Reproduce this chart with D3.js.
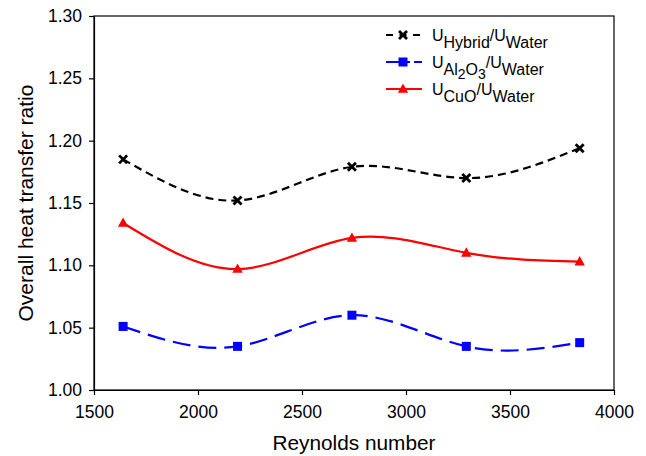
<!doctype html>
<html>
  <head>
    <meta charset="UTF-8">
    <title>Heat transfer ratio</title>
    <script src="https://d3js.org/d3.v7.min.js"></script>
    <style>
      body { margin: 0; background: #fff; }
      svg { display: block; font-family: "Liberation Sans", Arial, sans-serif; }
      .axis path, .axis line { stroke: #000; stroke-width: 1.2px; }
      .axis text { font-size: 17.5px; fill: #000; }
    </style>
  </head>
  <body>
    <svg id="chart" width="646" height="456"></svg>
    <script>
      // Reynolds numbers and the three ratio series
      const reynolds = [1640, 2190, 2740, 3290, 3835];
      const hybrid = [1.185, 1.152, 1.179, 1.170, 1.194];
      const al2o3 = [1.051, 1.035, 1.060, 1.035, 1.038];
      const cuo = [1.134, 1.097, 1.122, 1.110, 1.103];
      const xTicks = [1500, 2000, 2500, 3000, 3500, 4000];
      const yTicks = [1.00, 1.05, 1.10, 1.15, 1.20, 1.25, 1.30];

      const svg = d3.select("#chart");
      const plotL = 94, plotR = 614, plotT = 16, plotB = 390;

      const x = d3.scaleLinear().domain([1500, 4000]).range([plotL, plotR]);
      const y = d3.scaleLinear().domain([1.0, 1.3]).range([plotB, plotT]);

      // frame
      svg.append("rect")
        .attr("x", plotL).attr("y", plotT)
        .attr("width", plotR - plotL).attr("height", plotB - plotT)
        .attr("fill", "none").attr("stroke", "#000").attr("stroke-width", 1.2);

      svg.append("g").attr("class", "axis")
        .attr("transform", `translate(0,${plotB})`)
        .call(d3.axisBottom(x).tickValues(xTicks).tickSize(5).tickSizeOuter(0).tickPadding(11).tickFormat(d3.format("d")));

      svg.append("g").attr("class", "axis")
        .attr("transform", `translate(${plotL},0)`)
        .call(d3.axisLeft(y).tickValues(yTicks).tickSize(5).tickSizeOuter(0).tickPadding(7).tickFormat(d3.format(".2f")));

      // axis titles
      svg.append("text")
        .attr("x", (plotL + plotR) / 2).attr("y", 450)
        .attr("text-anchor", "middle").attr("font-size", 20.8)
        .text("Reynolds number");
      svg.append("text")
        .attr("transform", `translate(33,${(plotT + plotB) / 2}) rotate(-90)`)
        .attr("text-anchor", "middle").attr("font-size", 21)
        .text("Overall heat transfer ratio");

      const series = [
        { values: hybrid, color: "#000", dash: "8,5", legendDash: "7,6.5", marker: "cross" },
        { values: al2o3, color: "#0000ff", dash: "18,8", legendDash: "24,4", marker: "square" },
        { values: cuo, color: "#ff0000", dash: null, legendDash: null, marker: "triangle" }
      ];

      const line = d3.line()
        .x(d => x(d[0])).y(d => y(d[1]))
        .curve(d3.curveNatural);

      function drawMarker(g, kind, cx, cy, color) {
        if (kind === "cross") {
          g.append("path")
            .attr("d", `M${cx - 4},${cy - 4}L${cx + 4},${cy + 4}M${cx - 4},${cy + 4}L${cx + 4},${cy - 4}`)
            .attr("stroke", color).attr("stroke-width", 2.8);
        } else if (kind === "square") {
          g.append("rect")
            .attr("x", cx - 4.5).attr("y", cy - 4.5)
            .attr("width", 9).attr("height", 9).attr("fill", color);
        } else {
          g.append("path")
            .attr("d", `M${cx},${cy - 5.5}L${cx + 5.2},${cy + 3.8}L${cx - 5.2},${cy + 3.8}Z`)
            .attr("fill", color);
        }
      }

      series.forEach(s => {
        const pts = reynolds.map((r, i) => [r, s.values[i]]);
        svg.append("path")
          .attr("d", line(pts))
          .attr("fill", "none")
          .attr("stroke", s.color)
          .attr("stroke-width", 2.2)
          .attr("stroke-dasharray", s.dash);
        const g = svg.append("g");
        pts.forEach(p => drawMarker(g, s.marker, x(p[0]), y(p[1]), s.color));
      });

      // legend: U_sub / U_Water, subscripts dropped below the baseline
      const legendLabels = [
        [["U", 0], ["Hybrid", 1], ["/U", 0], ["Water", 1]],
        [["U", 0], ["Al", 1], ["2", 2], ["O", 1], ["3", 2], ["/U", 0], ["Water", 1]],
        [["U", 0], ["CuO", 1], ["/U", 0], ["Water", 1]]
      ];
      const ly = [35, 62, 89];
      const drop = [0, 7, 11];
      const levelSize = [16, 16, 14];
      series.forEach((s, i) => {
        const g = svg.append("g");
        g.append("line")
          .attr("x1", 386).attr("x2", 422).attr("y1", ly[i]).attr("y2", ly[i])
          .attr("stroke", s.color).attr("stroke-width", 2.2)
          .attr("stroke-dasharray", s.legendDash);
        drawMarker(g, s.marker, 403, ly[i], s.color);

        const t = g.append("text").attr("x", 432).attr("y", ly[i] + 6).attr("font-size", 16);
        let level = 0;
        legendLabels[i].forEach(([str, lv]) => {
          t.append("tspan")
            .attr("dy", drop[lv] - drop[level])
            .attr("font-size", levelSize[lv])
            .text(str);
          level = lv;
        });
      });
    </script>
  </body>
</html>
